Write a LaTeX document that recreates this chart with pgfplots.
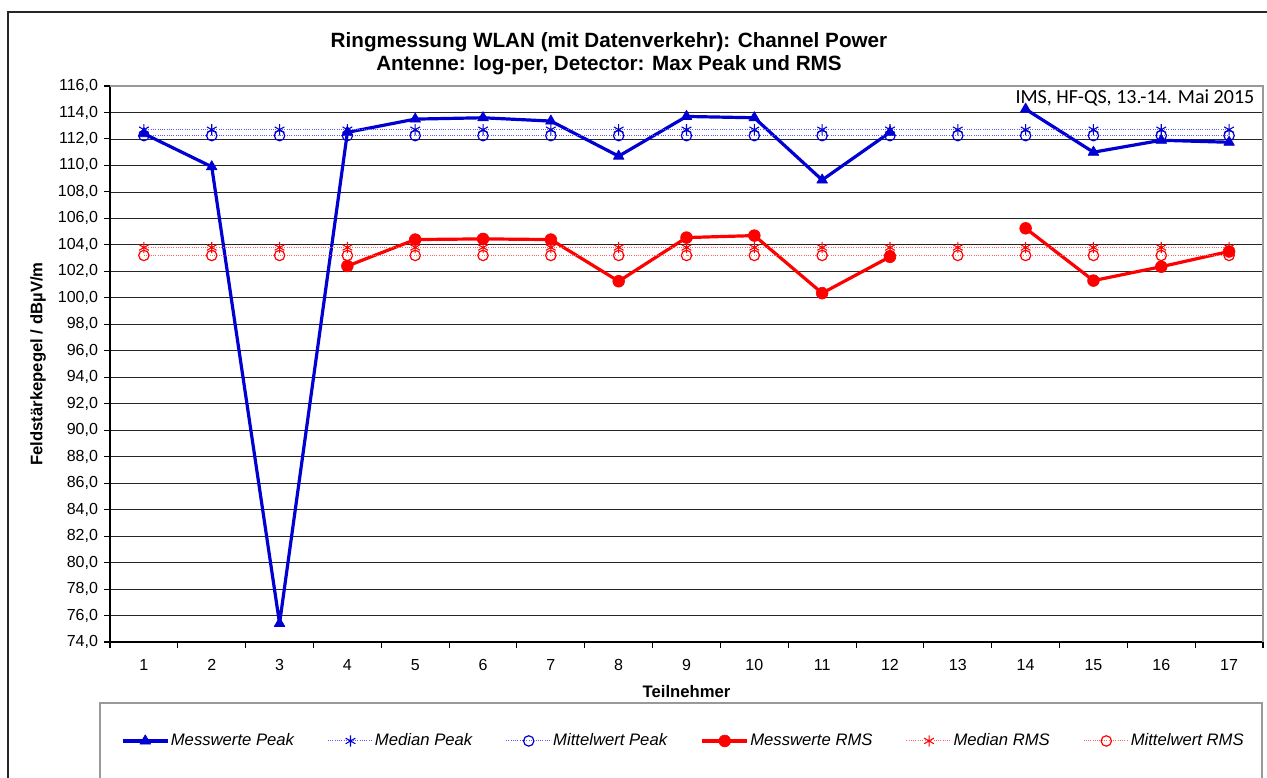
\documentclass[border=0pt]{standalone}
\usepackage{pgfplots}
\pgfplotsset{compat=1.18}
\usepackage{fontspec}
\setmainfont{Liberation Sans}
\newfontfamily\calibri{Carlito}

\definecolor{peakblue}{RGB}{0,0,210}
\definecolor{medblue}{RGB}{90,90,255}
\definecolor{rmsred}{RGB}{255,0,0}
\definecolor{medred}{RGB}{255,100,100}

% Messwerte (nan = kein Wert)
\pgfplotstableread{
x  peak   rms
1  112.4  nan
2  109.9  nan
3  75.4   nan
4  112.5  102.4
5  113.5  104.4
6  113.6  104.45
7  113.35 104.4
8  110.7  101.25
9  113.7  104.55
10 113.6  104.7
11 108.9  100.35
12 112.5  103.1
13 nan    nan
14 114.25 105.25
15 111.0  101.3
16 111.9  102.35
17 111.75 103.5
}\messwerte

\pgfplotstableread{
x  medpeak meanpeak medrms meanrms
1  112.7   112.25   103.8  103.2
2  112.7   112.25   103.8  103.2
3  112.7   112.25   103.8  103.2
4  112.7   112.25   103.8  103.2
5  112.7   112.25   103.8  103.2
6  112.7   112.25   103.8  103.2
7  112.7   112.25   103.8  103.2
8  112.7   112.25   103.8  103.2
9  112.7   112.25   103.8  103.2
10 112.7   112.25   103.8  103.2
11 112.7   112.25   103.8  103.2
12 112.7   112.25   103.8  103.2
13 112.7   112.25   103.8  103.2
14 112.7   112.25   103.8  103.2
15 112.7   112.25   103.8  103.2
16 112.7   112.25   103.8  103.2
17 112.7   112.25   103.8  103.2
}\stat

\begin{document}
\begin{tikzpicture}
\path[use as bounding box] (0pt,0pt) rectangle (950.25pt,583.5pt);
% outer frame and legend frame
\draw[black!85, line width=1.2pt] (6pt,-5pt) -- (6pt,574.5pt) -- (960pt,574.5pt);
\draw[black!40, line width=0.8pt] (75pt,-5pt) -- (75pt,56.25pt) -- (946.5pt,56.25pt) -- (946.5pt,-5pt);
\node[align=center, font=\bfseries\fontsize{15.5}{17.5}\selectfont] at (456.75pt,543pt)
  {Ringmessung WLAN (mit Datenverkehr): Channel Power\\Antenne: log-per, Detector: Max Peak und RMS};

\begin{axis}[
  at={(82.5pt,102pt)}, anchor=south west,
  scale only axis, width=864.75pt, height=417pt,
  xmin=0.5, xmax=17.5, ymin=74, ymax=116,
  xtick={1,...,17},
  minor xtick={0.5,1.5,...,17.5},
  ytick={74,76,...,116},
  major x tick style={draw=none},
  tick align=outside,
  major tick length=4.5pt, minor tick length=4.5pt,
  every tick/.style={black, line width=0.8pt},
  minor x tick style={black, line width=0.8pt},
  ymajorgrids,
  major grid style={black!85, line width=0.6pt},
  axis x line*=bottom, axis y line*=left,
  axis line style={black, line width=0.9pt, -},
  /pgf/number format/assume math mode=true,
  yticklabel={\pgfmathprintnumber[fixed,fixed zerofill,precision=1,use comma]{\tick}},
  ticklabel style={font=\fontsize{12}{14}\selectfont},
  yticklabel style={xshift=-1pt},
  xticklabel style={yshift=-5pt},
  xlabel={Teilnehmer},
  ylabel={Feldstärkepegel / dBµV/m},
  label style={font=\bfseries\fontsize{12.5}{14}\selectfont},
  xlabel style={at={(axis description cs:0.5,-0.09)}, anchor=center},
  ylabel style={at={(axis description cs:-0.0624,0.5)}, anchor=center},
  unbounded coords=jump,
  legend columns=6,
  legend style={at={(0.497,-0.178)}, anchor=center, draw=none, fill=none,
    font=\itshape\fontsize{12.5}{14}\selectfont,
    /tikz/every even column/.append style={column sep=24pt},
    nodes={inner xsep=1pt, text depth=0.25em}},
  legend image code/.code={\draw[mark repeat=2,mark phase=2,#1] plot coordinates {(0pt,0pt) (17pt,0pt) (34pt,0pt)};},
  clip=false,
]
\draw[black!40, line width=0.8pt] (rel axis cs:0,1) -- (rel axis cs:1,1) -- (rel axis cs:1,0);

\addplot[peakblue, line width=2.4pt, line join=round, mark=triangle*, mark size=4.6pt,
  mark options={solid, line width=0.5pt}] table[x=x, y=peak] {\messwerte};
\addlegendentry{Messwerte Peak}
\addplot[medblue, line width=0.7pt, densely dotted, mark=asterisk, mark size=4.2pt,
  mark options={solid, peakblue, line width=0.8pt}] table[x=x, y=medpeak] {\stat};
\addlegendentry{Median Peak}
\addplot[medblue, line width=0.7pt, densely dotted, mark=o, mark size=3.9pt,
  mark options={solid, peakblue, line width=0.9pt}] table[x=x, y=meanpeak] {\stat};
\addlegendentry{Mittelwert Peak}
\addplot[rmsred, line width=2.4pt, line join=round, mark=*, mark size=4.4pt,
  mark options={solid, line width=0.5pt}] table[x=x, y=rms] {\messwerte};
\addlegendentry{Messwerte RMS}
\addplot[medred, line width=0.7pt, densely dotted, mark=asterisk, mark size=4.2pt,
  mark options={solid, rmsred, line width=0.8pt}] table[x=x, y=medrms] {\stat};
\addlegendentry{Median RMS}
\addplot[medred, line width=0.7pt, densely dotted, mark=o, mark size=3.9pt,
  mark options={solid, rmsred, line width=0.9pt}] table[x=x, y=meanrms] {\stat};
\addlegendentry{Mittelwert RMS}

\node[anchor=north east, fill=white, inner sep=2pt, font=\calibri\fontsize{15}{17}\selectfont]
  at (rel axis cs:0.995,0.998) {IMS, HF-QS, 13.-14. Mai 2015};
\end{axis}
\end{tikzpicture}
\end{document}
